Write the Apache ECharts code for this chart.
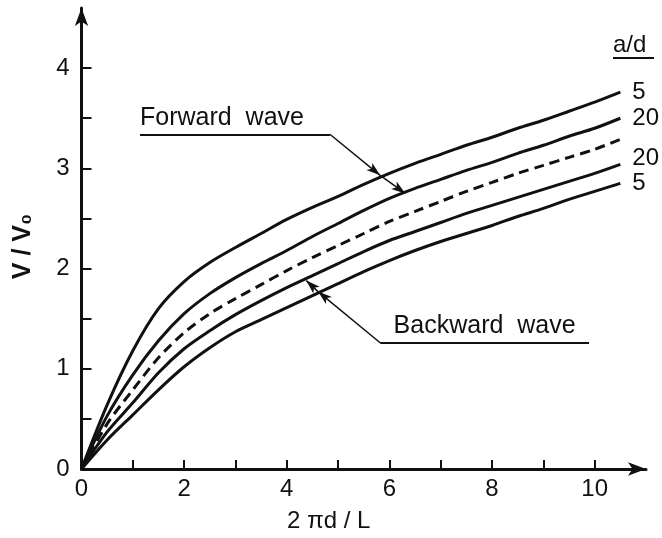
<!DOCTYPE html>
<html>
<head>
<meta charset="utf-8">
<script src="https://cdn.jsdelivr.net/npm/echarts@6/dist/echarts.min.js"></script>
<style>
  html, body { margin: 0; padding: 0; background: #fff; }
  #main { width: 662px; height: 538px; }
</style>
</head>
<body>
<div id="main"></div>
<script>
var xData = [0, 0.5, 1, 1.5, 2, 2.5, 3, 3.5, 4, 4.5, 5, 5.5, 6, 6.5, 7, 7.5, 8, 8.5, 9, 9.5, 10, 10.5];

// V/Vo, a/d = 5 and 20
var fwd5  = [0, 0.64, 1.18, 1.60, 1.87, 2.06, 2.21, 2.35, 2.49, 2.61, 2.72, 2.84, 2.95, 3.05, 3.14, 3.23, 3.31, 3.40, 3.48, 3.57, 3.66, 3.76];
var fwd20 = [0, 0.53, 0.94, 1.28, 1.55, 1.75, 1.91, 2.05, 2.18, 2.32, 2.45, 2.58, 2.70, 2.80, 2.89, 2.98, 3.06, 3.15, 3.23, 3.32, 3.40, 3.50];
var mid   = [0, 0.45, 0.79, 1.11, 1.36, 1.55, 1.70, 1.84, 1.98, 2.11, 2.23, 2.35, 2.47, 2.57, 2.67, 2.77, 2.86, 2.95, 3.03, 3.11, 3.19, 3.29];
var bwd20 = [0, 0.37, 0.66, 0.96, 1.20, 1.38, 1.54, 1.68, 1.81, 1.93, 2.05, 2.17, 2.28, 2.37, 2.46, 2.55, 2.63, 2.71, 2.79, 2.87, 2.95, 3.04];
var bwd5  = [0, 0.29, 0.54, 0.79, 1.02, 1.21, 1.37, 1.49, 1.61, 1.73, 1.85, 1.97, 2.08, 2.18, 2.27, 2.35, 2.43, 2.52, 2.60, 2.69, 2.77, 2.85];

var xTicks = [0, 1, 2, 3, 4, 5, 6, 7, 8, 9, 10];
var xLabels = [0, 2, 4, 6, 8, 10];
var yTicks = [0, 0.5, 1, 1.5, 2, 2.5, 3, 3.5, 4];
var yLabels = [0, 1, 2, 3, 4];

var ink = '#111';
var font = 'Liberation Sans';

function pairs(ys) {
  return ys.map(function(y, i) { return [xData[i], y]; });
}

function curve(name, ys, dashed, labelOffset) {
  return {
    name: name,
    type: 'line',
    data: pairs(ys),
    smooth: 0.3,
    showSymbol: false,
    silent: true,
    lineStyle: { color: ink, width: 3, type: dashed ? [10, 6] : 'solid' },
    endLabel: {
      show: !dashed,
      formatter: name,
      color: ink,
      fontFamily: font,
      fontSize: 24,
      distance: 12,
      offset: labelOffset || [0, 0]
    }
  };
}

var myChart = echarts.init(document.getElementById('main'));

var arrowLine = { color: ink, width: 1.5, type: 'solid' };

var option = {
  backgroundColor: '#fff',
  animation: false,
  grid: { left: 81.5, right: 16, top: 8, bottom: 67 },
  xAxis: {
    type: 'value',
    min: 0,
    max: 11,
    interval: 1,
    name: '2 πd / L',
    nameLocation: 'middle',
    nameGap: 40,
    nameTextStyle: { color: ink, fontFamily: font, fontSize: 24, padding: [0, 70, 0, 0] },
    axisLine: { show: true, lineStyle: { color: ink, width: 3 }, symbol: ['none', 'arrow'], symbolSize: [10, 18] },
    axisTick: { show: true, inside: true, length: 9, lineStyle: { color: ink, width: 2 }, customValues: xTicks },
    axisLabel: { color: ink, fontFamily: font, fontSize: 24, margin: 8, customValues: xLabels },
    splitLine: { show: false }
  },
  yAxis: {
    type: 'value',
    min: 0,
    max: 4.6,
    interval: 0.5,
    name: 'V / V₀',
    nameLocation: 'middle',
    nameGap: 46,
    nameRotate: 90,
    nameTextStyle: { color: ink, fontFamily: font, fontSize: 25, fontWeight: 'bold', padding: [0, 16, 0, 0] },
    axisLine: { show: true, lineStyle: { color: ink, width: 3 }, symbol: ['none', 'arrow'], symbolSize: [10, 18] },
    axisTick: { show: true, inside: true, length: 10, lineStyle: { color: ink, width: 2 }, customValues: yTicks },
    axisLabel: { color: ink, fontFamily: font, fontSize: 24, margin: 12, customValues: yLabels },
    splitLine: { show: false }
  },
  series: [
    Object.assign(curve('5', fwd5, false), {
      markLine: {
        silent: true,
        symbol: ['none', 'arrow'],
        symbolSize: [7, 14],
        lineStyle: arrowLine,
        label: { show: false },
        data: [
          [{ coord: [1.14, 3.34], symbol: 'none', lineStyle: { width: 2 },
             label: { show: true, formatter: 'Forward  wave', position: 'insideStartTop', distance: [0, 4],
                      color: ink, fontFamily: font, fontSize: 25 } },
           { coord: [4.84, 3.34], symbol: 'none' }],
          [{ coord: [4.84, 3.34], symbol: 'none' }, { coord: [5.82, 2.93], symbol: 'arrow' }],
          [{ coord: [5.82, 2.93], symbol: 'none' }, { coord: [6.31, 2.75], symbol: 'arrow' }],
          [{ coord: [5.82, 1.26], symbol: 'none', lineStyle: { width: 2 },
             label: { show: true, formatter: 'Backward  wave', position: 'insideMiddleTop', distance: 4,
                      color: ink, fontFamily: font, fontSize: 25 } },
           { coord: [9.89, 1.26], symbol: 'none' }],
          [{ coord: [5.82, 1.26], symbol: 'none' }, { coord: [4.61, 1.77], symbol: 'arrow' }],
          [{ coord: [4.61, 1.77], symbol: 'none' }, { coord: [4.38, 1.88], symbol: 'arrow' }]
        ]
      }
    }),
    curve('20', fwd20, false),
    curve('', mid, true),
    curve('20', bwd20, false, [0, -6]),
    curve('5', bwd5, false)
  ],
  graphic: [
    { type: 'text', left: 613, top: 33,
      style: { text: 'a/d', fill: ink, font: '24px "Liberation Sans"' } },
    { type: 'line', shape: { x1: 613, y1: 58, x2: 654, y2: 58 },
      style: { stroke: ink, lineWidth: 2 } }
  ]
};

myChart.setOption(option);
</script>
</body>
</html>
